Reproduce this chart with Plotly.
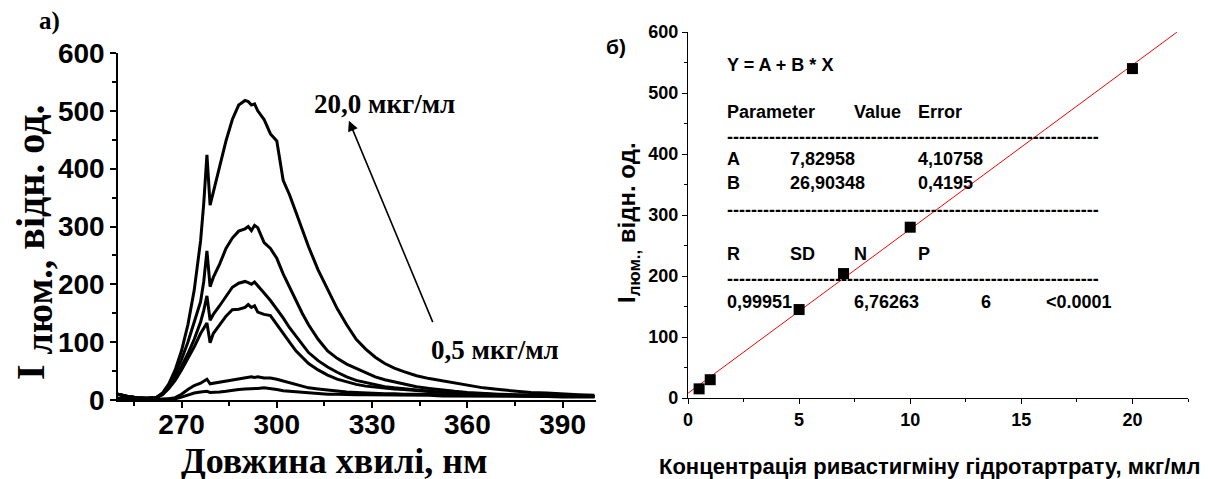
import plotly.graph_objects as go

# ---------------- Data: panel a) emission spectra ----------------
wavelength = [250, 253, 256, 259, 262, 264, 266, 268, 270, 272, 274, 276, 277, 278, 279, 280,
              282, 284, 286, 288, 290, 291, 292, 293, 294, 296, 298, 300, 302, 304, 306, 308,
              310, 313, 316, 319, 322, 325, 328, 331, 334, 337, 340, 344, 348, 352, 356, 360,
              365, 370, 375, 380, 385, 390, 395, 400]

spec_20 = [10, 6, 4, 3, 4, 12, 28, 52, 85, 130, 190, 275, 340, 424, 337, 360,
           405, 448, 485, 510, 518, 516, 510, 512, 500, 485, 460, 448, 380, 355, 325, 295,
           265, 225, 190, 158, 130, 105, 88, 74, 63, 55, 49, 42, 37, 33, 29, 25,
           21, 18, 15, 13, 12, 10, 9, 8]
spec_10 = [10, 6, 4, 3, 4, 11, 25, 45, 70, 100, 135, 170, 205, 258, 196, 212,
           235, 262, 280, 292, 296, 300, 293, 302, 298, 272, 262, 245, 218, 195, 170, 150,
           130, 105, 85, 72, 62, 55, 47, 40, 35, 31, 27, 23, 20, 17, 15, 13,
           11, 10, 9, 8, 8, 7, 7, 6]
spec_7 = [10, 6, 4, 3, 4, 10, 22, 38, 58, 80, 105, 135, 155, 180, 138, 148,
          163, 180, 195, 202, 205, 203, 200, 204, 198, 185, 172, 158, 142, 125, 110, 95,
          82, 68, 57, 48, 40, 34, 30, 26, 23, 21, 19, 17, 15, 13, 12, 11,
          10, 9, 8, 8, 7, 7, 6, 6]
spec_5 = [10, 6, 4, 3, 4, 9, 20, 34, 52, 72, 92, 115, 125, 133, 99, 115,
          130, 145, 156, 157, 160, 165, 160, 163, 152, 148, 146, 130, 115, 100, 85, 74,
          63, 52, 43, 36, 31, 27, 24, 22, 20, 19, 18, 16, 14, 13, 12, 11,
          10, 9, 8, 8, 7, 7, 6, 6]
spec_1 = [3, 2, 1, 1, 1, 1, 2, 4, 10, 18, 25, 29, 32, 36, 28, 29,
          31, 32, 35, 37, 38, 39, 40, 39, 40, 38, 38, 36, 33, 30, 27, 24,
          21, 19, 17, 15, 14, 13, 12, 12, 11, 11, 10, 10, 9, 9, 9, 8,
          8, 8, 7, 7, 7, 6, 6, 6]
spec_05 = [3, 2, 1, 1, 1, 1, 1, 2, 5, 9, 12, 14, 15, 15, 13, 13,
           14, 15, 17, 18, 19, 19, 20, 20, 20, 21, 20, 18, 16, 15, 14, 13,
           12, 11, 10, 10, 9, 9, 9, 9, 8, 8, 8, 8, 8, 7, 7, 7,
           7, 6, 6, 6, 6, 5, 5, 5]
spectra = [spec_20, spec_10, spec_7, spec_5, spec_1, spec_05]

# ---------------- Data: panel б) calibration ----------------
conc = [0.5, 1, 5, 7, 10, 20]
intensity = [15, 30, 145, 204, 280, 540]
fit_x = [0, 22]
fit_y = [7.83, 599.7]

x1_ticks = [270, 300, 330, 360, 390]
y_ticks = [0, 100, 200, 300, 400, 500, 600]
x2_ticks = [0, 5, 10, 15, 20]

W, H = 1211, 479
OFF = 8  # page offset of the plot inside the browser window
SANS = "Liberation Sans, Arial, sans-serif"
SERIF = "Liberation Serif, Times New Roman, serif"

fig = go.Figure()

for s in spectra:
    fig.add_trace(go.Scatter(x=wavelength, y=s, mode="lines",
                             line=dict(color="black", width=3),
                             xaxis="x", yaxis="y", showlegend=False))

fig.add_trace(go.Scatter(x=fit_x, y=fit_y, mode="lines",
                         line=dict(color="#ff0000", width=1),
                         xaxis="x2", yaxis="y2", showlegend=False))
fig.add_trace(go.Scatter(x=conc, y=intensity, mode="markers",
                         marker=dict(symbol="square", size=11, color="black"),
                         xaxis="x2", yaxis="y2", showlegend=False))

def px(xs):
    return (xs - OFF) / W

def py(ys):
    return (H - (ys - OFF)) / H

axis_common = dict(showline=True, linecolor="black", showgrid=False, zeroline=False,
                   ticks="outside", tickcolor="black", automargin=False)

fig.update_layout(
    width=W, height=H,
    margin=dict(l=0, r=0, t=0, b=0),
    plot_bgcolor="white", paper_bgcolor="white",
    xaxis=dict(domain=[px(118), px(596)], range=[250, 400.5], anchor="y",
               tickvals=x1_ticks, ticklen=6, tickwidth=1.5, linewidth=1.5,
               ticklabelstandoff=-7,
               minor=dict(dtick=15, tick0=255, ticks="outside", ticklen=4, tickcolor="black", tickwidth=1.5),
               tickfont=dict(family=SANS, size=28, color="black", weight="bold"),
               **axis_common),
    yaxis=dict(domain=[py(400), py(53)], range=[0, 600], anchor="x",
               tickvals=y_ticks, ticklen=6, tickwidth=1.5, linewidth=1.5,
               minor=dict(dtick=50, ticks="outside", ticklen=4, tickcolor="black", tickwidth=1.5),
               tickfont=dict(family=SANS, size=28, color="black", weight="bold"),
               **axis_common),
    xaxis2=dict(domain=[px(688), px(1188)], range=[0, 22.5], anchor="y2",
                tickvals=x2_ticks, ticklen=5, tickwidth=1.2, linewidth=1.2,
                minor=dict(dtick=2.5, ticks="outside", ticklen=3, tickcolor="black", tickwidth=1.2),
                tickfont=dict(family=SANS, size=18, color="black", weight="bold"),
                **axis_common),
    yaxis2=dict(domain=[py(398), py(32)], range=[0, 600], anchor="x2",
                tickvals=y_ticks, ticklen=5, tickwidth=1.2, linewidth=1.2,
                minor=dict(dtick=50, ticks="outside", ticklen=3, tickcolor="black", tickwidth=1.2),
                tickfont=dict(family=SANS, size=18, color="black", weight="bold"),
                **axis_common),
)

ann = []

def paper_text(text, xs, ys, font, angle=0):
    ann.append(dict(text=text, x=px(xs), y=py(ys), xref="paper", yref="paper",
                    xanchor="center", yanchor="middle", textangle=angle,
                    showarrow=False, font=font))

# panel labels
paper_text("a)", 49, 21, dict(family=SERIF, size=25, color="black", weight="bold"))
paper_text("б)", 616, 46, dict(family=SANS, size=21, color="black", weight="bold"))
# axis titles panel a
paper_text("Довжина хвилі, нм", 334, 461, dict(family=SERIF, size=36, color="black", weight="bold"))
paper_text("I <sub><span style='font-size:38px'>люм.,</span></sub> відн. од.", 34, 243,
           dict(family=SERIF, size=40, color="black", weight="bold"), -90)
# axis titles panel б
paper_text("Концентрація ривастигміну гідротартрату, мкг/мл", 930, 466,
           dict(family=SANS, size=22, color="black", weight="bold"))
paper_text("I<sub>люм.,</sub> відн. од.", 629, 223,
           dict(family=SANS, size=24, color="black", weight="bold"), -90)

# concentration labels and arrow in panel a
lab_font = dict(family=SERIF, size=27, color="black", weight="bold")
ann.append(dict(text="20,0 мкг/мл", x=334, y=511, xref="x", yref="y", xanchor="center",
                yanchor="middle", showarrow=False, font=lab_font))
ann.append(dict(text="0,5 мкг/мл", x=368.6, y=86, xref="x", yref="y", xanchor="center",
                yanchor="middle", showarrow=False, font=lab_font))
ann.append(dict(text="", x=322.7, y=483, ax=349.3, ay=132, xref="x", yref="y",
                axref="x", ayref="y", showarrow=True, arrowhead=2, arrowsize=1.3,
                arrowwidth=1.6, arrowcolor="black"))

# fit table panel б
tfont = dict(family=SANS, size=18, color="black", weight="bold")
cols = [1.67, 4.5, 7.39, 10.27, 13.1, 16.0]
dashes = "-" * 62
table = [
    ("Y = A + B * X", 0, 546),
    ("Parameter", 0, 469), ("Value", 2, 469), ("Error", 3, 469),
    (dashes, 0, 428),
    ("A", 0, 392), ("7,82958", 1, 392), ("4,10758", 3, 392),
    ("B", 0, 352), ("26,90348", 1, 352), ("0,4195", 3, 352),
    (dashes, 0, 308),
    ("R", 0, 236), ("SD", 1, 236), ("N", 2, 236), ("P", 3, 236),
    (dashes, 0, 195),
    ("0,99951", 0, 157), ("6,76263", 2, 157), ("6", 4, 157), ("<0.0001", 5, 157),
]
for txt, c, yv in table:
    ann.append(dict(text=txt, x=cols[c], y=yv, xref="x2", yref="y2", xanchor="left",
                    yanchor="middle", showarrow=False, font=tfont))

fig.update_layout(annotations=ann)
fig.write_html("out.html")
